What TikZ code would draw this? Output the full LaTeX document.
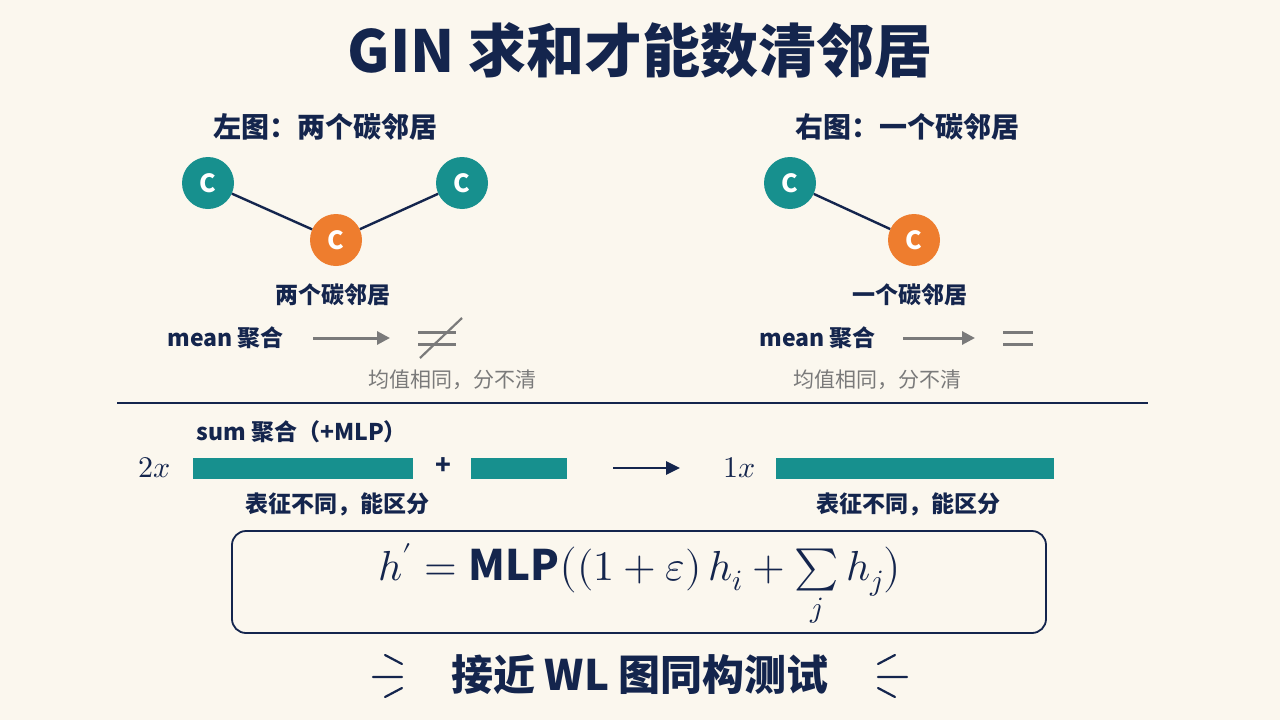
\documentclass[tikz,border=0pt]{standalone}
\usepackage{unicode-math}
\setmainfont{Noto Sans CJK SC}
\setmathfont{Latin Modern Math}
\usetikzlibrary{arrows.meta}
\definecolor{navy}{HTML}{14254D}
\definecolor{teal}{HTML}{17908E}
\definecolor{orng}{HTML}{EE7D2E}
\definecolor{bg}{HTML}{FBF7EE}
\definecolor{gr}{HTML}{7A7A7A}
\newcommand{\fs}[1]{\fontsize{#1}{#1}\selectfont}
\begin{document}
\begin{tikzpicture}[x=1pt,y=-1pt,
  atom/.style={circle,minimum size=52pt,inner sep=0pt,text=white,font=\fs{25}\bfseries},
  bond/.style={navy,line width=2.4pt},
  lbl/.style={text=navy,font=\fs{28}\bfseries},
  sub/.style={text=navy,font=\fs{23}\bfseries},
  note/.style={text=gr,font=\fs{21}},
  garrow/.style={gr,line width=3pt,-{Triangle[length=13pt,width=13pt]}},
  bar/.style={fill=teal,draw=none}]
\fill[bg] (0,0) rectangle (1280,720);
\useasboundingbox (0,0) rectangle (1280,720);
\node[text=navy,font=\fs{58}\bfseries] (title) at (640,50) {GIN 求和才能数清邻居};
\node[lbl] (lt) at (325,127) {左图：两个碳邻居};
\node[lbl] (rt) at (907,127) {右图：一个碳邻居};
% left molecule
\node[atom,fill=teal] (a1) at (208,183) {C};
\node[atom,fill=teal] (a2) at (462,183) {C};
\node[atom,fill=orng] (a3) at (336,240) {C};
\draw[bond] (a1) -- (a3); \draw[bond] (a2) -- (a3);
% right molecule
\node[atom,fill=teal] (b1) at (790,183) {C};
\node[atom,fill=orng] (b2) at (914,240) {C};
\draw[bond] (b1) -- (b2);
\node[sub] (ln) at (333,295) {两个碳邻居};
\node[sub] (rn) at (910,295) {一个碳邻居};
% mean rows
\node[sub,anchor=west] (lm) at (164,338) {mean 聚合};
\coordinate (la1) at (313,338); \coordinate (la2) at (390,338);
\draw[garrow] (la1) -- (la2);
\draw[gr,line width=3pt] (418,332) -- (456,332) (418,344) -- (456,344);
\draw[gr,line width=2.2pt] (420,358) -- (462,318);
\node[note] (ls) at (452,380) {均值相同，分不清};
\node[sub,anchor=west] (rm) at (756,338) {mean 聚合};
\coordinate (ra1) at (903,338); \coordinate (ra2) at (975,338);
\draw[garrow] (ra1) -- (ra2);
\draw[gr,line width=3pt] (1003,332) -- (1033,332) (1003,344) -- (1033,344);
\node[note] (rs) at (877,380) {均值相同，分不清};
% separator
\draw[navy,line width=1.5pt] (117,403) -- (1148,403);
% sum row
\node[sub,anchor=west] (sm) at (193,432) {sum 聚合（+MLP）};
\node[text=navy,font=\fs{30}] (tx) at (155,468) {$2x$};
\fill[bar] (193,458) rectangle (413,479);
\node[text=navy,font=\fs{26}\bfseries] (pl) at (443,466) {+};
\fill[bar] (471,458) rectangle (567,479);
\coordinate (sa1) at (613,468); \coordinate (sa2) at (680,468);
\draw[navy,line width=2.8pt,-{Triangle[length=14pt,width=13pt]}] (sa1) -- (sa2);
\node[text=navy,font=\fs{30}] (ox) at (740,468) {$1x$};
\fill[bar] (776,458) rectangle (1054,479);
\node[sub] (d1) at (337,504) {表征不同，能区分};
\node[sub] (d2) at (908,504) {表征不同，能区分};
% formula
\draw[navy,line width=1.8pt,rounded corners=14pt] (232,531) rectangle (1046,633);
\node[text=navy,font=\fs{42}] (f) at (640,586) {$h' = \textbf{MLP}\big((1+\varepsilon)\,h_i + \sum\limits_{j} h_j\big)$};
% bottom
\node[text=navy,font=\fs{42}\bfseries] (bt) at (640,675) {接近 WL 图同构测试};
\draw[navy,line width=2.2pt,line cap=round]
  (385,655) -- (402,664) (373,677) -- (402,677) (385,697) -- (402,688)
  (895,655) -- (878,664) (907,677) -- (878,677) (895,697) -- (878,688);
\end{tikzpicture}
\end{document}
